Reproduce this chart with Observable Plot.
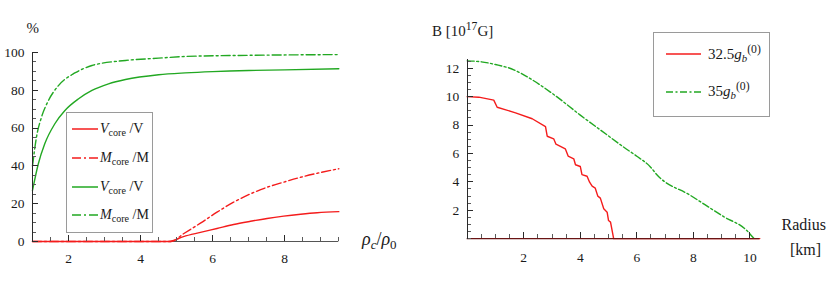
<!DOCTYPE html>
<html><head><meta charset="utf-8">
<script src="https://cdn.jsdelivr.net/npm/d3@7"></script>
<script src="https://cdn.jsdelivr.net/npm/@observablehq/plot@0.6"></script>
<style>
body{margin:0;background:#fff;}
#wrap{position:relative;width:830px;height:284px;font-family:"Liberation Serif",serif;color:#1a1a1a;overflow:hidden;}
#wrap svg, #wrap svg text{font-family:"Liberation Serif",serif !important;}
.pane{position:absolute;top:0;width:415px;height:284px;}
.lab{position:absolute;white-space:nowrap;line-height:1;}
.lab sub,.leg sub{font-size:0.72em;position:relative;top:0.3em;vertical-align:0;line-height:0;}
.lab sup,.leg sup{font-size:0.78em;position:relative;top:-0.5em;vertical-align:0;line-height:0;}
.box{position:absolute;border:1px solid #9a9a9a;background:#fff;box-sizing:border-box;}
.leg{position:absolute;white-space:nowrap;line-height:1;}
.sw{position:absolute;overflow:visible;}
.tk{position:absolute;pointer-events:none;}
</style>
</head><body>
<div id="wrap">
  <div id="left" class="pane" style="left:0"></div>
  <div id="right" class="pane" style="left:415px"></div>
</div>
<script>
// ---------- Left chart data ----------
const rhoMajorTicks = [2, 4, 6, 8];
const rhoMinorTicks = [1, 1.5, 2, 2.5, 3, 3.5, 4, 4.5, 5, 5.5, 6, 6.5, 7, 7.5, 8, 8.5, 9, 9.5];
const pctMajorTicks = [0, 20, 40, 60, 80, 100];
const pctMinorTicks = [0, 5, 10, 15, 20, 25, 30, 35, 40, 45, 50, 55, 60, 65, 70, 75, 80, 85, 90, 95, 100];

const vGreenX = [1, 1.16, 1.34, 1.62, 1.9, 2.28, 2.65, 3.11, 3.58, 4.5, 5.24, 6, 7, 8, 9.5];
const vGreenY = [27, 41, 51.7, 62.3, 69.3, 75.5, 79.9, 83.4, 85.7, 88.2, 89.2, 89.9, 90.5, 90.8, 91.4];
const mGreenX = [1, 1.11, 1.25, 1.44, 1.72, 2.19, 2.65, 3.58, 4.5, 5.24, 7, 9.5];
const mGreenY = [40, 55.2, 65.8, 74.5, 82.5, 89.3, 93.1, 95.8, 97, 97.9, 98.5, 98.9];
const vRedX = [1, 4.78, 5.19, 5.66, 6.12, 6.58, 7.05, 7.51, 7.97, 8.44, 8.9, 9.5];
const vRedY = [0, 0, 2.6, 4.8, 6.9, 9.0, 10.7, 12.2, 13.4, 14.4, 15.2, 15.8];
const mRedX = [1, 4.85, 5.19, 5.66, 6.12, 6.58, 7.05, 7.51, 7.97, 8.44, 8.9, 9.5];
const mRedY = [0, 0, 4.1, 9.7, 15.5, 20.8, 25.2, 28.7, 31.4, 34, 36.1, 38.5];

// ---------- Right chart data ----------
const radMajorTicks = [2, 4, 6, 8, 10];
const radMinorTicks = [0, 0.5, 1, 1.5, 2, 2.5, 3, 3.5, 4, 4.5, 5, 5.5, 6, 6.5, 7, 7.5, 8, 8.5, 9, 9.5, 10];
const bMajorTicks = [2, 4, 6, 8, 10, 12];
const bMinorTicks = [0, 0.5, 1, 1.5, 2, 2.5, 3, 3.5, 4, 4.5, 5, 5.5, 6, 6.5, 7, 7.5, 8, 8.5, 9, 9.5, 10, 10.5, 11, 11.5, 12, 12.5];

const b325X = [0, 0.41, 0.94, 1.06, 1.71, 2.30, 2.77, 2.83, 3.06, 3.14, 3.47, 3.57, 3.77, 3.83, 4.0, 4.06, 4.24, 4.33, 4.42, 4.53, 4.62, 4.71, 4.83, 4.95, 5.0, 5.07, 5.18, 10.35];
const b325Y = [10.0, 9.96, 9.75, 9.25, 8.86, 8.44, 7.89, 7.21, 7.03, 6.65, 6.32, 5.81, 5.62, 5.2, 5.08, 4.51, 4.39, 3.97, 3.69, 3.55, 2.99, 2.85, 2.1, 1.86, 1.27, 1.16, 0.0, 0];
const b35X = [0, 0.5, 1.0, 1.65, 1.94, 3.06, 4.0, 4.95, 5.53, 6.0, 6.48, 6.71, 7.89, 9.07, 9.89, 10.13];
const b35Y = [12.52, 12.45, 12.26, 11.89, 11.6, 10.15, 8.7, 7.3, 6.45, 5.8, 5.05, 4.5, 3.05, 1.55, 0.57, 0.04];

// ---------- styles ----------
const RED = "#f41c1c", GREEN = "#22a822", AXIS = "#2a2a2a", MINOR = "#5a5a5a";
const DASHDOT = "9,3,2,3";
const DASHDOT2 = "7,2.5,2,2.5";

const pts = (xs, ys) => xs.map((x, i) => ({x, y: ys[i]}));
const baseStyle = {fontFamily: '"Liberation Serif", serif', fontSize: "13.5px", color: "#1a1a1a", background: "transparent"};

const left = Plot.plot({
  width: 415, height: 284,
  marginLeft: 32, marginRight: 415 - 338.3, marginTop: 52, marginBottom: 43,
  style: baseStyle,
  x: {domain: [1, 9.5], label: null},
  y: {domain: [0, 100], label: null},
  marks: [
    Plot.ruleY([0], {stroke: "#555"}),
    Plot.axisX(rhoMajorTicks, {tickSize: 0, tickPadding: 12, label: null}),
    Plot.axisY(pctMajorTicks, {tickSize: 0, tickPadding: 8, label: null}),
    Plot.line(pts(mRedX, mRedY), {x: "x", y: "y", stroke: RED, strokeWidth: 1.4, strokeDasharray: DASHDOT, curve: "monotone-x"}),
    Plot.line(pts(vRedX, vRedY), {x: "x", y: "y", stroke: RED, strokeWidth: 1.4, curve: "monotone-x"}),
    Plot.line(pts(vGreenX, vGreenY), {x: "x", y: "y", stroke: GREEN, strokeWidth: 1.4, curve: "monotone-x"}),
    Plot.line(pts(mGreenX, mGreenY), {x: "x", y: "y", stroke: GREEN, strokeWidth: 1.4, strokeDasharray: DASHDOT, curve: "monotone-x"})
  ]
});
document.getElementById("left").append(left);

const right = Plot.plot({
  width: 415, height: 284,
  marginLeft: 51.7, marginRight: 415 - 344.3, marginTop: 59.2, marginBottom: 284 - 238.1,
  style: baseStyle,
  x: {domain: [0, 10.35], label: null},
  y: {domain: [0, 12.6], label: null},
  marks: [
    Plot.axisX(radMajorTicks, {tickSize: 0, tickPadding: 13.5, label: null}),
    Plot.axisY(bMajorTicks, {tickSize: 0, tickPadding: 8, label: null}),
    Plot.line(pts(b35X, b35Y), {x: "x", y: "y", stroke: GREEN, strokeWidth: 1.4, strokeDasharray: DASHDOT2, curve: "monotone-x"}),
    Plot.line(pts(b325X, b325Y), {x: "x", y: "y", stroke: RED, strokeWidth: 1.4, curve: "linear"}),
    Plot.ruleY([0], {stroke: "#6a1414", strokeWidth: 1.2})
  ]
});
document.getElementById("right").append(right);

const wrap = document.getElementById("wrap");

// ---------- inward axis line and ticks as thin HTML blocks, placed with the plots' own scales ----------
function block(x, y, w, h, color) {
  const d = document.createElement("div");
  d.className = "tk";
  Object.assign(d.style, {left: x + "px", top: y + "px", width: w + "px", height: h + "px", background: color});
  wrap.append(d);
}
function inwardAxes(plot, offsetX, xMajor, xMinor, yMajor, yMinor) {
  const sx = plot.scale("x"), sy = plot.scale("y");
  const X = (v) => Math.round(offsetX + sx.apply(v)), Y = (v) => Math.round(sy.apply(v));
  const x0 = sx.domain[0], y0 = sy.domain[0], y1 = sy.domain[1];
  const base = Y(y0), axisX = X(x0);
  for (const t of xMinor) block(X(t), base - 4, 1, 4, MINOR);
  for (const t of xMajor) block(X(t), base - 6, 1, 6, AXIS);
  for (const t of yMinor) block(axisX, Y(t), 4, 1, MINOR);
  for (const t of yMajor) block(axisX, Y(t), 6, 1, AXIS);
  block(axisX, Y(y1), 1, base - Y(y1) + 1, AXIS);
}
inwardAxes(left, 0, rhoMajorTicks, rhoMinorTicks, pctMajorTicks, pctMinorTicks);
inwardAxes(right, 415, radMajorTicks, radMinorTicks, bMajorTicks, bMinorTicks);

// ---------- labels ----------
const axisLabels = [
  {html: "%", left: 26.5, top: 20.5, size: 15},
  {html: "<i>ρ</i><sub><i>c</i></sub>/<i>ρ</i><sub>0</sub>", left: 362, top: 230, size: 18},
  {html: "B [10<sup>17</sup>G]", left: 432, top: 24, size: 15},
  {html: "Radius", left: 781.5, top: 216.6, size: 16},
  {html: "[km]", left: 790, top: 241.6, size: 16}
];
for (const l of axisLabels) {
  const d = document.createElement("div");
  d.className = "lab";
  d.style.left = l.left + "px"; d.style.top = l.top + "px"; d.style.fontSize = l.size + "px";
  d.innerHTML = l.html;
  wrap.append(d);
}

// ---------- legends ----------
const leftLegendLabels = [
  "<i>V</i><sub>core</sub> /V",
  "<i>M</i><sub>core</sub> /M",
  "<i>V</i><sub>core</sub> /V",
  "<i>M</i><sub>core</sub> /M"
];
const leftLegendColors = [RED, RED, GREEN, GREEN];
const leftLegendDash = [null, DASHDOT, null, DASHDOT];
const rightLegendLabels = [
  "32.5<i>g</i><sub><i>b</i></sub><sup>(0)</sup>",
  "35<i>g</i><sub><i>b</i></sub><sup>(0)</sup>"
];
const rightLegendColors = [RED, GREEN];
const rightLegendDash = [null, DASHDOT2];

function legend(box, lineX0, lineX1, textX, ys, labels, colors, dashes, size) {
  const b = document.createElement("div");
  b.className = "box";
  Object.assign(b.style, {left: box[0] + "px", top: box[1] + "px", width: (box[2] - box[0]) + "px", height: (box[3] - box[1]) + "px"});
  wrap.append(b);
  labels.forEach((lab, i) => {
    const svg = d3.create("svg").attr("class", "sw")
      .attr("width", lineX1 - lineX0).attr("height", 4)
      .style("left", lineX0 + "px").style("top", (ys[i] - 2) + "px");
    svg.append("line").attr("x1", 0).attr("x2", lineX1 - lineX0).attr("y1", 2).attr("y2", 2)
      .attr("stroke", colors[i]).attr("stroke-width", 1.5)
      .attr("stroke-dasharray", dashes[i]);
    wrap.append(svg.node());
    const t = document.createElement("div");
    t.className = "leg";
    t.style.left = textX + "px";
    t.style.fontSize = size + "px";
    t.style.top = (ys[i] + 5 - 0.8375 * size) + "px";
    t.innerHTML = lab;
    wrap.append(t);
  });
}
legend([66, 112, 152.5, 232.5], 72.3, 98.3, 100, [129, 157.7, 186.7, 215], leftLegendLabels, leftLegendColors, leftLegendDash, 14);
legend([653, 31.7, 769.5, 117], 666, 701, 708, [54.3, 91.7], rightLegendLabels, rightLegendColors, rightLegendDash, 15);
</script>
</body></html>
